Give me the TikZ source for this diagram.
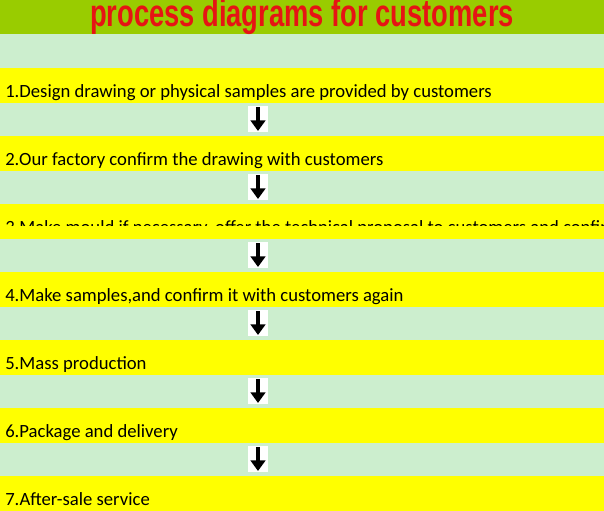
\documentclass[tikz,border=0pt]{standalone}
\usepackage{fontspec}
\setmainfont{Carlito}
\newfontfamily\titlefont{Liberation Sans}
\usetikzlibrary{arrows.meta}
\definecolor{barcolor}{RGB}{153,204,0}
\definecolor{mintcolor}{RGB}{204,238,206}
\definecolor{yellowcolor}{RGB}{255,255,0}
\definecolor{titlered}{RGB}{230,20,20}
\tikzset{
  steptext/.style={anchor=base west, inner sep=0pt, font=\fontsize{14}{16}\selectfont},
  flowarrow/.style={line width=2.4pt, -{Triangle[length=8pt,width=11pt]}},
  arrowbg/.style={fill=white, draw=none}
}
\begin{document}
\begin{tikzpicture}[x=0.75pt,y=-0.75pt]
\useasboundingbox (0,0) rectangle (604,511);
% bands
\fill[barcolor] (0,0) rectangle (604,34);
\foreach \y in {34,102,170,238,306,374,442}
  \fill[mintcolor] (0,\y) rectangle (604,\y+34);
\foreach \y in {68,136,204,272,340,408,476}
  \fill[yellowcolor] (0,\y) rectangle (604,\y+35);
\node[text=titlered, yscale=1.4, font=\titlefont\fontsize{20.5}{24}\selectfont\bfseries] (title) at (302,17) {process diagrams for customers};
% steps
\node[steptext] (s1) at (5,97) {1.Design drawing or physical samples are provided by customers};
\node[steptext] (s2) at (5,165) {2.Our factory confirm the drawing with customers};
\begin{scope}
\clip (0,204) rectangle (604,225);
\node[steptext] (s3) at (5,233) {3.Make mould if necessary, offer the technical proposal to customers and confirm};
\end{scope}
\node[steptext] (s4) at (5,301) {4.Make samples,and confirm it with customers again};
\node[steptext] (s5) at (5,369) {5.Mass production};
\node[steptext] (s6) at (5,437) {6.Package and delivery};
\node[steptext] (s7) at (5,505) {7.After-sale service};
% arrows
\foreach \y/\n in {119/a, 187/b, 255/c, 323/d, 391/e, 459/f}{
  \fill[arrowbg] (248,\y-13) rectangle (268,\y+13);
  \coordinate (\n top) at (258,\y-12);
  \coordinate (\n bot) at (258,\y+12);
  \draw[flowarrow] (\n top) -- (\n bot);
}
\end{tikzpicture}
\end{document}
